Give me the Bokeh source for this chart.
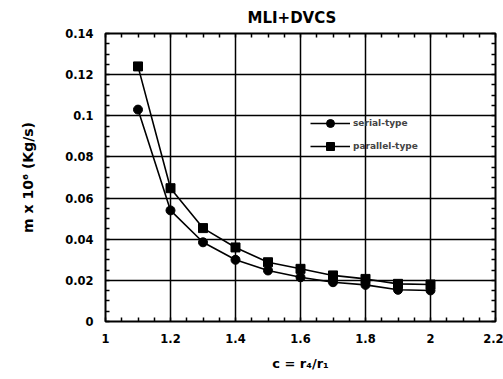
from bokeh.plotting import figure
from bokeh.models import (SingleIntervalTicker, CustomJSTickFormatter, LinearAxis, Range1d)
from bokeh.embed import file_html
from bokeh.resources import INLINE

# ---- data ----
c_ratio = [1.1, 1.2, 1.3, 1.4, 1.5, 1.6, 1.7, 1.8, 1.9, 2.0]
serial_type = [0.103, 0.054, 0.0385, 0.030, 0.0248, 0.0215, 0.0191, 0.0178, 0.0154, 0.0151]
parallel_type = [0.124, 0.0648, 0.0454, 0.036, 0.0288, 0.0256, 0.0224, 0.0207, 0.0183, 0.018]
series_names = ["serial-type", "parallel-type"]
title_text = "MLI+DVCS"
x_label = "c = r\u2084/r\u2081"
y_label = "m x 10\u2076 (Kg/s)"
x_range = (1.0, 2.2)
y_range = (0.0, 0.14)
x_step = 0.2
y_step = 0.02

FONT = "DejaVu Sans"

p = figure(width=503, height=379, x_range=Range1d(*x_range), y_range=Range1d(*y_range),
           output_backend="svg", toolbar_location=None, title=title_text,
           min_border_left=105, min_border_right=8, min_border_top=33, min_border_bottom=58)
p.background_fill_color = "white"
p.border_fill_color = "white"
p.outline_line_color = "black"
p.outline_line_width = 2

p.title.text_font = FONT
p.title.text_font_style = "bold"
p.title.text_font_size = "15px"
p.title.text_color = "black"
p.title.align = "left"
p.title.offset = 142
p.title.vertical_align = "top"

fmt = CustomJSTickFormatter(code="return parseFloat(tick.toFixed(3)).toString();")
empty_fmt = CustomJSTickFormatter(code="return '';")
xt = SingleIntervalTicker(interval=x_step, num_minor_ticks=4)
yt = SingleIntervalTicker(interval=y_step, num_minor_ticks=4)


def style_axis(ax, labels=True):
    ax.axis_line_color = None
    ax.major_tick_in = 0
    ax.major_tick_out = 0
    ax.minor_tick_in = 4
    ax.minor_tick_out = 0
    ax.minor_tick_line_color = "black"
    ax.minor_tick_line_width = 1.5
    if labels:
        ax.major_label_text_font = FONT
        ax.major_label_text_font_style = "bold"
        ax.major_label_text_font_size = "11.5px"
        ax.major_label_text_color = "black"
        ax.major_label_standoff = 12
        ax.axis_label_text_font = FONT
        ax.axis_label_text_font_style = "bold"
        ax.axis_label_text_color = "black"
    else:
        ax.major_label_standoff = 0
        ax.major_label_text_font_size = "0px"


p.xaxis[0].ticker = xt
p.xaxis[0].formatter = fmt
p.yaxis[0].ticker = yt
p.yaxis[0].formatter = fmt
style_axis(p.xaxis[0])
style_axis(p.yaxis[0])
p.xaxis[0].axis_label = x_label
p.xaxis[0].axis_label_text_font_size = "13px"
p.xaxis[0].axis_label_standoff = 10
p.yaxis[0].axis_label = y_label
p.yaxis[0].axis_label_text_font_size = "14px"
p.yaxis[0].axis_label_standoff = 26

top_ax = LinearAxis(ticker=xt, formatter=empty_fmt)
right_ax = LinearAxis(ticker=yt, formatter=empty_fmt)
style_axis(top_ax, labels=False)
style_axis(right_ax, labels=False)
p.add_layout(top_ax, "above")
p.add_layout(right_ax, "right")

p.xgrid.ticker = xt
p.ygrid.ticker = yt
for g in (p.xgrid[0], p.ygrid[0]):
    g.grid_line_color = "black"
    g.grid_line_width = 1.5
    g.grid_line_alpha = 1.0

p.line(c_ratio, serial_type, line_color="black", line_width=1.6, legend_label=series_names[0])
p.scatter(c_ratio, serial_type, marker="circle", size=9, color="black", legend_label=series_names[0])
p.line(c_ratio, parallel_type, line_color="black", line_width=1.6, legend_label=series_names[1])
p.scatter(c_ratio, parallel_type, marker="square", size=9, color="black", legend_label=series_names[1])

lg = p.legend[0]
lg.location = (205, 165)
lg.background_fill_alpha = 0
lg.border_line_alpha = 0
lg.padding = 0
lg.margin = 0
lg.spacing = 3
lg.glyph_width = 40
lg.glyph_height = 20
lg.label_height = 20
lg.label_standoff = 3
lg.label_text_font = FONT
lg.label_text_font_style = "bold"
lg.label_text_font_size = "9px"

open("out.html", "w").write(file_html(p, INLINE))
